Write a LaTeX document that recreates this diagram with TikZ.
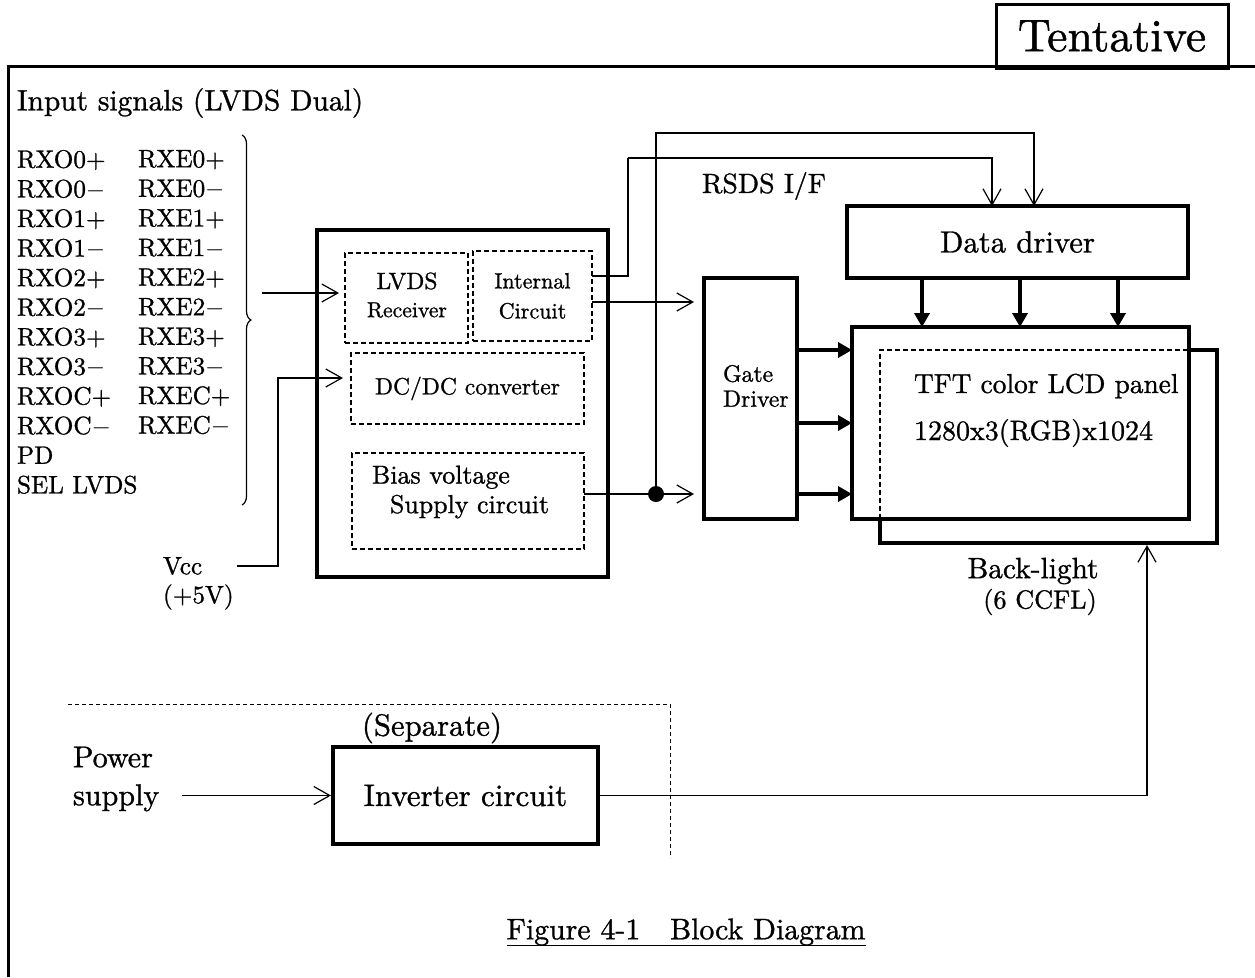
\documentclass[tikz,border=0pt]{standalone}
\usepackage{fontspec}
\setmainfont{lmroman10-regular.otf}[FakeBold=1]
\usetikzlibrary{arrows.meta,decorations.pathreplacing,calc}
\newcommand{\myfs}[2]{\fontsize{#1pt}{#2pt}\selectfont}
\begin{document}
\begin{tikzpicture}[x=1pt,y=-1pt,
  thickbox/.style={draw, line width=4pt, inner sep=0pt, outer sep=0pt},
  dbox/.style={draw, line width=1.1pt, dash pattern=on 5pt off 3pt, inner sep=0pt, outer sep=0pt},
  lbl/.style={inner sep=0pt, outer sep=0pt},
  wire/.style={line width=1.2pt},
  oarrow/.style={line width=1.2pt, -{Straight Barb[length=16pt,width=18pt,line width=1.2pt]}},
  tarrow/.style={line width=4pt, -{Triangle[length=14pt,width=15pt]}}]
\useasboundingbox (0,0) rectangle (1255,977);

% frame and tentative mark
\draw[line width=3pt] (8,977) -- (8,66) -- (1255,66);
\node[draw, line width=3pt, inner sep=0pt, minimum width=232pt, minimum height=64pt, font=\myfs{45.8}{50}] (tent) at (1112,36) {Tentative};

% input signals
\node[lbl, anchor=west, font=\myfs{29.4}{34}] (intitle) at (17,103) {Input signals (LVDS Dual)};
\node[lbl, anchor=north west, align=left, font=\myfs{25.2}{29.6}] (colO) at (17,150)
  {RXO0+\\RXO0$-$\\RXO1+\\RXO1$-$\\RXO2+\\RXO2$-$\\RXO3+\\RXO3$-$\\RXOC+\\RXOC$-$\\PD\\SEL LVDS};
\node[lbl, anchor=north west, align=left, font=\myfs{25.2}{29.6}] (colE) at (138,150)
  {RXE0+\\RXE0$-$\\RXE1+\\RXE1$-$\\RXE2+\\RXE2$-$\\RXE3+\\RXE3$-$\\RXEC+\\RXEC$-$};
\draw[wire, decorate, decoration={brace, amplitude=9pt}] (242,135) -- (242,505);

\node[lbl, anchor=west, font=\myfs{25.2}{28}] (vcc) at (163,566) {Vcc};
\node[lbl, anchor=west, font=\myfs{25.2}{28}] (vccv) at (163,597) {(+5V)};

% controller block
\node[thickbox, minimum width=291pt, minimum height=347pt] (ctrl) at (462.5,403.5) {};
\node[dbox, minimum width=123pt, minimum height=90pt] (rcv) at (406.5,298) {};
\node[lbl, font=\myfs{23.6}{26}] (rcvA) at (407,281) {LVDS};
\node[lbl, font=\myfs{21.7}{26}] (rcvB) at (407,310) {Receiver};
\node[dbox, minimum width=119pt, minimum height=90pt, align=center, font=\myfs{22.1}{30}] (intc) at (532.5,296)
  {Internal\\Circuit};
\node[dbox, minimum width=233pt, minimum height=71pt, font=\myfs{23.6}{26}] (dcdc) at (467.5,388.5) {DC/DC converter};
\node[dbox, minimum width=232pt, minimum height=96pt] (bias) at (468,501) {};
\node[lbl, anchor=west, align=left, font=\myfs{25.9}{29.5}] (biastxt) at (372,492)
  {Bias voltage\\\hspace*{18pt}Supply circuit};

% gate driver, data driver, panel
\node[thickbox, minimum width=93pt, minimum height=241pt] (gate) at (750.5,398.5) {};
\node[lbl, anchor=west, align=left, font=\myfs{23.7}{25}] (gatetxt) at (723,386) {Gate\\Driver};
\node[thickbox, minimum width=341pt, minimum height=72pt, font=\myfs{30.7}{34}] (data) at (1017.5,242) {Data driver};
\node[thickbox, minimum width=337pt, minimum height=192pt] (lcd) at (1020.5,423) {};
\draw[line width=4pt] (1189,350) -- (1217,350) -- (1217,543) -- (880,543) -- (880,521);
\draw[line width=1.1pt, dash pattern=on 5pt off 3pt] (880,519) -- (880,350) -- (1187,350);
\node[lbl, anchor=west, font=\myfs{27.4}{30}] (tft) at (914,386) {TFT color LCD panel};
\node[lbl, anchor=west, font=\myfs{28}{30}] (res) at (914,433) {1280x3(RGB)x1024};
\node[lbl, font=\myfs{29.4}{32}] (bl) at (1033,571) {Back-light};
\node[lbl, font=\myfs{26.2}{30}] (ccfl) at (1040,602) {(6 CCFL)};
\node[lbl, anchor=west, font=\myfs{27.8}{30}] (rsds) at (702,186) {RSDS I/F};

% inverter part
\draw[line width=1pt, dash pattern=on 4pt off 3pt] (68,704) -- (670,704) -- (670,858);
\node[lbl, font=\myfs{30.7}{34}] (sep) at (432,728) {(Separate)};
\node[thickbox, minimum width=265pt, minimum height=97pt, font=\myfs{31}{34}] (inv) at (465.5,795.5) {Inverter circuit};
\node[lbl, anchor=west, align=left, font=\myfs{30.1}{38}] (pwr) at (73,779) {Power\\supply};

% caption
\node[lbl, font=\myfs{29.8}{34}] (cap) at (686,932) {Figure 4-1\hspace{1em}Block Diagram};
\draw[line width=1.4pt] ([yshift=-6pt]cap.base west) -- ([yshift=-6pt]cap.base east);

% coordinates
\coordinate (sigin) at (262,293);
\coordinate (vccL) at (237,566);
\coordinate (vccC) at (278,566);
\coordinate (dcin) at (344,378);
\coordinate (rsA) at (628,158);
\coordinate (rsB) at (1034,133);
\coordinate (dinA) at (992,0);
\coordinate (gin1) at (0,302);
\coordinate (iout) at (0,276);
\coordinate (dot) at (656,494);
\coordinate (da1) at (922,0);
\coordinate (da2) at (1020,0);
\coordinate (da3) at (1118,0);
\coordinate (ga1) at (0,350);
\coordinate (ga2) at (0,423);
\coordinate (ga3) at (0,494);
\coordinate (blbot) at (1147,545);
\coordinate (pwrin) at (182,795.5);

% connectors
\draw[oarrow, shorten >=6pt] (sigin) -- (sigin -| rcv.west);
\draw[oarrow, shorten >=1pt] (vccL) -- (vccC) |- (dcin);
\draw[wire] (intc.east |- iout) -| (rsA);
\draw[oarrow] (rsA) -| (dinA |- data.north);
\draw[oarrow, shorten >=10pt] (intc.east |- gin1) -- (gin1 -| gate.west);
\draw[oarrow, shorten >=10pt] (bias.east |- dot) -- (dot -| gate.west);
\fill (dot) circle (8pt);
\draw[oarrow] (dot) |- (rsB) -- (rsB |- data.north);
\foreach \c in {da1,da2,da3} \draw[tarrow] (data.south -| \c) -- (lcd.north -| \c);
\foreach \c in {ga1,ga2,ga3} \draw[tarrow] (gate.east |- \c) -- (lcd.west |- \c);
\draw[oarrow] (inv.east) -| (blbot);
\draw[oarrow, shorten >=2pt] (pwrin) -- (inv.west);
\end{tikzpicture}
\end{document}
